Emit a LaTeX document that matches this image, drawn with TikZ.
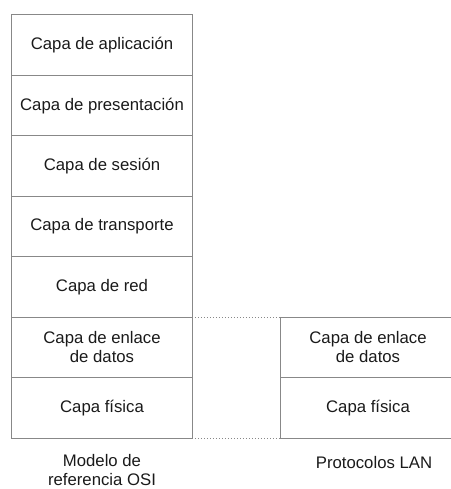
\documentclass[tikz,border=0pt]{standalone}
\usepackage{fontspec}
\setmainfont{Liberation Sans}
\definecolor{linegray}{HTML}{888888}
\definecolor{textcol}{HTML}{1A1A1A}
\begin{document}
\begin{tikzpicture}[x=1bp,y=-1bp,
  layer/.style={draw=linegray, line width=1bp, minimum width=180bp, minimum height=60.43bp,
    inner sep=0pt, outer sep=0pt, text=textcol, font=\fontsize{16.8}{19}\selectfont, align=center},
  rlayer/.style={layer, minimum width=176bp},
  caption/.style={text=textcol, font=\fontsize{16.8}{19.5}\selectfont, align=center, inner sep=0pt},
  link/.style={draw=linegray, line width=1bp, dotted}]
\useasboundingbox (0,0) rectangle (451,489);
\clip (0,0) rectangle (451,489);
\node[layer] (app)  at (102,45.2)  {Capa de aplicación};
\node[layer] (pres) at (102,105.6) {Capa de presentación};
\node[layer] (ses)  at (102,166.1) {Capa de sesión};
\node[layer] (tra)  at (102,226.5) {Capa de transporte};
\node[layer] (red)  at (102,286.9) {Capa de red};
\node[layer] (enl)  at (102,347.4) {Capa de enlace\\de datos};
\node[layer] (fis)  at (102,407.8) {Capa física};
\node[rlayer] (renl) at (368,347.4) {Capa de enlace\\de datos};
\node[rlayer] (rfis) at (368,407.8) {Capa física};
\draw[link] (enl.north east) -- (renl.north west);
\draw[link] (fis.south east) -- (rfis.south west);
\node[caption] (osi) at (102,470) {Modelo de\\referencia OSI};
\node[caption] (lan) at (374,463) {Protocolos LAN};
\end{tikzpicture}
\end{document}
